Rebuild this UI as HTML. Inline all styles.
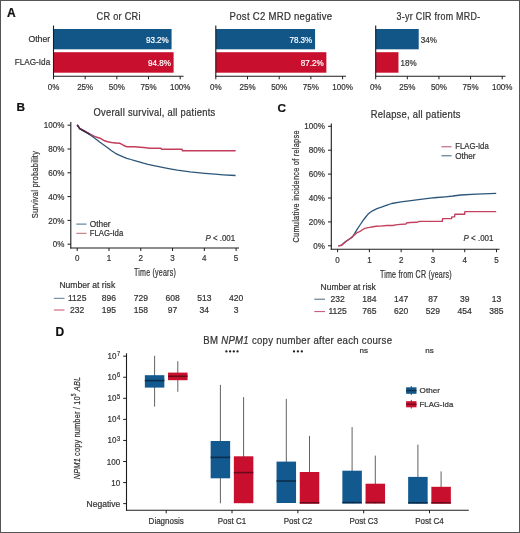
<!DOCTYPE html>
<html><head><meta charset="utf-8"><title>Figure</title>
<style>
html,body{margin:0;padding:0;background:#fff;}
#fig{position:relative;width:520px;height:533px;box-sizing:border-box;border:1px solid #555555;background:#fff;overflow:hidden;}
#fig svg{position:absolute;left:-1px;top:-1px;will-change:transform;}
text{font-family:"Liberation Sans", sans-serif;stroke-width:0.22px;}
</style></head>
<body><div id="fig"><svg width="520" height="533" viewBox="0 0 520 533" font-family='"Liberation Sans", sans-serif'>
<text x="7.00" y="17.00" font-size="12" text-anchor="start" fill="#111" stroke="#111" font-weight="bold" >A</text>
<text x="118.65" y="19.70" font-size="10.2" text-anchor="middle" fill="#333333" stroke="#333333" stroke-width="0.15" letter-spacing="0.3" font-weight="normal" textLength="44.30" lengthAdjust="spacingAndGlyphs" >CR or CRi</text>
<rect x="53.50" y="29.00" width="118.08" height="20.30" fill="#125587"/>
<rect x="53.50" y="52.20" width="120.11" height="20.50" fill="#c8102e"/>
<text x="168.78" y="42.70" font-size="9.6" text-anchor="end" fill="#ffffff" stroke="#ffffff" stroke-width="0.1" font-weight="normal" textLength="22.87" lengthAdjust="spacingAndGlyphs" >93.2%</text>
<text x="170.81" y="66.00" font-size="9.6" text-anchor="end" fill="#ffffff" stroke="#ffffff" stroke-width="0.1" font-weight="normal" textLength="22.87" lengthAdjust="spacingAndGlyphs" >94.8%</text>
<line x1="53.50" y1="25.50" x2="53.50" y2="76.50" stroke="#1c1c1c" stroke-width="1.1"/>
<line x1="53.00" y1="76.20" x2="183.50" y2="76.20" stroke="#1c1c1c" stroke-width="1.1"/>
<line x1="53.50" y1="76.20" x2="53.50" y2="79.30" stroke="#1c1c1c" stroke-width="1"/>
<text x="53.50" y="89.80" font-size="9.4" text-anchor="middle" fill="#333333" stroke="#333333" font-weight="normal" textLength="11.62" lengthAdjust="spacingAndGlyphs" >0%</text>
<line x1="85.17" y1="76.20" x2="85.17" y2="79.30" stroke="#1c1c1c" stroke-width="1"/>
<text x="85.17" y="89.80" font-size="9.4" text-anchor="middle" fill="#333333" stroke="#333333" font-weight="normal" textLength="16.09" lengthAdjust="spacingAndGlyphs" >25%</text>
<line x1="116.85" y1="76.20" x2="116.85" y2="79.30" stroke="#1c1c1c" stroke-width="1"/>
<text x="116.85" y="89.80" font-size="9.4" text-anchor="middle" fill="#333333" stroke="#333333" font-weight="normal" textLength="16.09" lengthAdjust="spacingAndGlyphs" >50%</text>
<line x1="148.53" y1="76.20" x2="148.53" y2="79.30" stroke="#1c1c1c" stroke-width="1"/>
<text x="148.53" y="89.80" font-size="9.4" text-anchor="middle" fill="#333333" stroke="#333333" font-weight="normal" textLength="16.09" lengthAdjust="spacingAndGlyphs" >75%</text>
<line x1="180.20" y1="76.20" x2="180.20" y2="79.30" stroke="#1c1c1c" stroke-width="1"/>
<text x="180.20" y="89.80" font-size="9.4" text-anchor="middle" fill="#333333" stroke="#333333" font-weight="normal" textLength="20.56" lengthAdjust="spacingAndGlyphs" >100%</text>
<text x="281.00" y="19.70" font-size="10.2" text-anchor="middle" fill="#333333" stroke="#333333" stroke-width="0.15" letter-spacing="0.3" font-weight="normal" textLength="102.80" lengthAdjust="spacingAndGlyphs" >Post C2 MRD negative</text>
<rect x="215.80" y="29.00" width="99.28" height="20.30" fill="#125587"/>
<rect x="215.80" y="52.20" width="110.57" height="20.50" fill="#c8102e"/>
<text x="312.28" y="42.70" font-size="9.6" text-anchor="end" fill="#ffffff" stroke="#ffffff" stroke-width="0.1" font-weight="normal" textLength="22.87" lengthAdjust="spacingAndGlyphs" >78.3%</text>
<text x="323.57" y="66.00" font-size="9.6" text-anchor="end" fill="#ffffff" stroke="#ffffff" stroke-width="0.1" font-weight="normal" textLength="22.87" lengthAdjust="spacingAndGlyphs" >87.2%</text>
<line x1="215.80" y1="25.50" x2="215.80" y2="76.50" stroke="#1c1c1c" stroke-width="1.1"/>
<line x1="215.30" y1="76.20" x2="345.90" y2="76.20" stroke="#1c1c1c" stroke-width="1.1"/>
<line x1="215.80" y1="76.20" x2="215.80" y2="79.30" stroke="#1c1c1c" stroke-width="1"/>
<text x="215.80" y="89.80" font-size="9.4" text-anchor="middle" fill="#333333" stroke="#333333" font-weight="normal" textLength="11.62" lengthAdjust="spacingAndGlyphs" >0%</text>
<line x1="247.50" y1="76.20" x2="247.50" y2="79.30" stroke="#1c1c1c" stroke-width="1"/>
<text x="247.50" y="89.80" font-size="9.4" text-anchor="middle" fill="#333333" stroke="#333333" font-weight="normal" textLength="16.09" lengthAdjust="spacingAndGlyphs" >25%</text>
<line x1="279.20" y1="76.20" x2="279.20" y2="79.30" stroke="#1c1c1c" stroke-width="1"/>
<text x="279.20" y="89.80" font-size="9.4" text-anchor="middle" fill="#333333" stroke="#333333" font-weight="normal" textLength="16.09" lengthAdjust="spacingAndGlyphs" >50%</text>
<line x1="310.90" y1="76.20" x2="310.90" y2="79.30" stroke="#1c1c1c" stroke-width="1"/>
<text x="310.90" y="89.80" font-size="9.4" text-anchor="middle" fill="#333333" stroke="#333333" font-weight="normal" textLength="16.09" lengthAdjust="spacingAndGlyphs" >75%</text>
<line x1="342.60" y1="76.20" x2="342.60" y2="79.30" stroke="#1c1c1c" stroke-width="1"/>
<text x="342.60" y="89.80" font-size="9.4" text-anchor="middle" fill="#333333" stroke="#333333" font-weight="normal" textLength="20.56" lengthAdjust="spacingAndGlyphs" >100%</text>
<text x="438.50" y="19.70" font-size="10.2" text-anchor="middle" fill="#333333" stroke="#333333" stroke-width="0.15" letter-spacing="0.3" font-weight="normal" textLength="83.80" lengthAdjust="spacingAndGlyphs" >3-yr CIR from MRD-</text>
<rect x="375.70" y="29.00" width="43.01" height="20.30" fill="#125587"/>
<rect x="375.70" y="52.20" width="22.77" height="20.50" fill="#c8102e"/>
<text x="420.71" y="42.70" font-size="9.6" text-anchor="start" fill="#333333" stroke="#333333" font-weight="normal" textLength="16.14" lengthAdjust="spacingAndGlyphs" >34%</text>
<text x="400.47" y="66.00" font-size="9.6" text-anchor="start" fill="#333333" stroke="#333333" font-weight="normal" textLength="16.14" lengthAdjust="spacingAndGlyphs" >18%</text>
<line x1="375.70" y1="25.50" x2="375.70" y2="76.50" stroke="#1c1c1c" stroke-width="1.1"/>
<line x1="375.20" y1="76.20" x2="505.50" y2="76.20" stroke="#1c1c1c" stroke-width="1.1"/>
<line x1="375.70" y1="76.20" x2="375.70" y2="79.30" stroke="#1c1c1c" stroke-width="1"/>
<text x="375.70" y="89.80" font-size="9.4" text-anchor="middle" fill="#333333" stroke="#333333" font-weight="normal" textLength="11.62" lengthAdjust="spacingAndGlyphs" >0%</text>
<line x1="407.32" y1="76.20" x2="407.32" y2="79.30" stroke="#1c1c1c" stroke-width="1"/>
<text x="407.32" y="89.80" font-size="9.4" text-anchor="middle" fill="#333333" stroke="#333333" font-weight="normal" textLength="16.09" lengthAdjust="spacingAndGlyphs" >25%</text>
<line x1="438.95" y1="76.20" x2="438.95" y2="79.30" stroke="#1c1c1c" stroke-width="1"/>
<text x="438.95" y="89.80" font-size="9.4" text-anchor="middle" fill="#333333" stroke="#333333" font-weight="normal" textLength="16.09" lengthAdjust="spacingAndGlyphs" >50%</text>
<line x1="470.57" y1="76.20" x2="470.57" y2="79.30" stroke="#1c1c1c" stroke-width="1"/>
<text x="470.57" y="89.80" font-size="9.4" text-anchor="middle" fill="#333333" stroke="#333333" font-weight="normal" textLength="16.09" lengthAdjust="spacingAndGlyphs" >75%</text>
<line x1="502.20" y1="76.20" x2="502.20" y2="79.30" stroke="#1c1c1c" stroke-width="1"/>
<text x="502.20" y="89.80" font-size="9.4" text-anchor="middle" fill="#333333" stroke="#333333" font-weight="normal" textLength="20.56" lengthAdjust="spacingAndGlyphs" >100%</text>
<text x="50.20" y="41.80" font-size="9.3" text-anchor="end" fill="#333333" stroke="#333333" font-weight="normal" textLength="21.80" lengthAdjust="spacingAndGlyphs" >Other</text>
<text x="50.20" y="64.70" font-size="9.3" text-anchor="end" fill="#333333" stroke="#333333" font-weight="normal" textLength="35.50" lengthAdjust="spacingAndGlyphs" >FLAG-Ida</text>
<text x="16.60" y="111.20" font-size="11.8" text-anchor="start" fill="#111" stroke="#111" font-weight="bold" >B</text>
<text x="154.50" y="116.00" font-size="10.2" text-anchor="middle" fill="#333333" stroke="#333333" stroke-width="0.15" letter-spacing="0.3" font-weight="normal" textLength="122.00" lengthAdjust="spacingAndGlyphs" >Overall survival, all patients</text>
<line x1="70.80" y1="122.00" x2="70.80" y2="248.50" stroke="#1c1c1c" stroke-width="1.1"/>
<line x1="70.30" y1="248.00" x2="239.00" y2="248.00" stroke="#1c1c1c" stroke-width="1.1"/>
<line x1="67.50" y1="244.20" x2="70.80" y2="244.20" stroke="#1c1c1c" stroke-width="1"/>
<text x="64.30" y="247.30" font-size="9.4" text-anchor="end" fill="#333333" stroke="#333333" font-weight="normal" textLength="11.62" lengthAdjust="spacingAndGlyphs" >0%</text>
<line x1="67.50" y1="220.40" x2="70.80" y2="220.40" stroke="#1c1c1c" stroke-width="1"/>
<text x="64.30" y="223.50" font-size="9.4" text-anchor="end" fill="#333333" stroke="#333333" font-weight="normal" textLength="16.09" lengthAdjust="spacingAndGlyphs" >20%</text>
<line x1="67.50" y1="196.60" x2="70.80" y2="196.60" stroke="#1c1c1c" stroke-width="1"/>
<text x="64.30" y="199.70" font-size="9.4" text-anchor="end" fill="#333333" stroke="#333333" font-weight="normal" textLength="16.09" lengthAdjust="spacingAndGlyphs" >40%</text>
<line x1="67.50" y1="172.80" x2="70.80" y2="172.80" stroke="#1c1c1c" stroke-width="1"/>
<text x="64.30" y="175.90" font-size="9.4" text-anchor="end" fill="#333333" stroke="#333333" font-weight="normal" textLength="16.09" lengthAdjust="spacingAndGlyphs" >60%</text>
<line x1="67.50" y1="149.00" x2="70.80" y2="149.00" stroke="#1c1c1c" stroke-width="1"/>
<text x="64.30" y="152.10" font-size="9.4" text-anchor="end" fill="#333333" stroke="#333333" font-weight="normal" textLength="16.09" lengthAdjust="spacingAndGlyphs" >80%</text>
<line x1="67.50" y1="125.20" x2="70.80" y2="125.20" stroke="#1c1c1c" stroke-width="1"/>
<text x="64.30" y="128.30" font-size="9.4" text-anchor="end" fill="#333333" stroke="#333333" font-weight="normal" textLength="20.56" lengthAdjust="spacingAndGlyphs" >100%</text>
<line x1="77.20" y1="248.00" x2="77.20" y2="251.00" stroke="#1c1c1c" stroke-width="1"/>
<text x="77.20" y="261.40" font-size="9.4" text-anchor="middle" fill="#333333" stroke="#333333" font-weight="normal" textLength="4.47" lengthAdjust="spacingAndGlyphs" >0</text>
<line x1="108.98" y1="248.00" x2="108.98" y2="251.00" stroke="#1c1c1c" stroke-width="1"/>
<text x="108.98" y="261.40" font-size="9.4" text-anchor="middle" fill="#333333" stroke="#333333" font-weight="normal" textLength="4.47" lengthAdjust="spacingAndGlyphs" >1</text>
<line x1="140.76" y1="248.00" x2="140.76" y2="251.00" stroke="#1c1c1c" stroke-width="1"/>
<text x="140.76" y="261.40" font-size="9.4" text-anchor="middle" fill="#333333" stroke="#333333" font-weight="normal" textLength="4.47" lengthAdjust="spacingAndGlyphs" >2</text>
<line x1="172.54" y1="248.00" x2="172.54" y2="251.00" stroke="#1c1c1c" stroke-width="1"/>
<text x="172.54" y="261.40" font-size="9.4" text-anchor="middle" fill="#333333" stroke="#333333" font-weight="normal" textLength="4.47" lengthAdjust="spacingAndGlyphs" >3</text>
<line x1="204.32" y1="248.00" x2="204.32" y2="251.00" stroke="#1c1c1c" stroke-width="1"/>
<text x="204.32" y="261.40" font-size="9.4" text-anchor="middle" fill="#333333" stroke="#333333" font-weight="normal" textLength="4.47" lengthAdjust="spacingAndGlyphs" >4</text>
<line x1="236.10" y1="248.00" x2="236.10" y2="251.00" stroke="#1c1c1c" stroke-width="1"/>
<text x="236.10" y="261.40" font-size="9.4" text-anchor="middle" fill="#333333" stroke="#333333" font-weight="normal" textLength="4.47" lengthAdjust="spacingAndGlyphs" >5</text>
<text x="155.00" y="275.50" font-size="10.2" text-anchor="middle" fill="#333333" stroke="#333333" stroke-width="0.08" letter-spacing="0.3" font-weight="normal" textLength="42.00" lengthAdjust="spacingAndGlyphs" >Time (years)</text>
<text transform="translate(37.9,184.6) rotate(-90)" font-size="9.6" text-anchor="middle" fill="#333333" stroke="#333333" stroke-width="0.08" letter-spacing="0.3" textLength="67.5" lengthAdjust="spacingAndGlyphs">Survival probability</text>
<line x1="76.30" y1="224.10" x2="86.50" y2="224.10" stroke="#3f6a85" stroke-width="1.0"/>
<line x1="76.30" y1="233.30" x2="86.50" y2="233.30" stroke="#b86a72" stroke-width="1.0"/>
<text x="89.80" y="226.90" font-size="8.5" text-anchor="start" fill="#333333" stroke="#333333" font-weight="normal" textLength="20.80" lengthAdjust="spacingAndGlyphs" >Other</text>
<text x="89.80" y="236.40" font-size="8.5" text-anchor="start" fill="#333333" stroke="#333333" font-weight="normal" textLength="33.40" lengthAdjust="spacingAndGlyphs" >FLAG-Ida</text>
<text x="205.4" y="240.7" font-size="9" fill="#333333" stroke="#333333" textLength="29.8" lengthAdjust="spacingAndGlyphs"><tspan font-style="italic">P</tspan> &lt; .001</text>
<path d="M77.2,124.9 L79.7,128.5 L83.5,130.5 L87.4,132.6 L90.5,134.4 L93.5,136.0 L96.2,137.1 L100.0,138.2 L103.8,140.4 L107.7,141.8 L111.5,142.5 L115.4,142.9 L120.0,143.3 L122.3,144.6 L125.4,146.2 L126.9,146.7 L134.6,146.8 L140.0,147.3 L144.0,147.6 L149.6,148.2 L161.0,148.3 L161.5,149.2 L182.0,149.2 L182.5,150.7 L235.6,150.7" fill="none" stroke="#c43d5c" stroke-width="1.55" stroke-linejoin="round"/>
<path d="M77.2,124.9 L79.7,128.7 L83.5,130.9 L87.4,133.2 L91.3,135.8 L95.1,138.5 L100.0,142.3 L103.8,145.0 L107.7,147.7 L111.5,150.8 L115.4,153.3 L119.2,155.2 L123.1,156.8 L126.9,158.3 L130.8,159.5 L134.6,160.6 L140.0,162.1 L143.5,163.2 L147.9,164.3 L155.0,165.9 L163.7,167.7 L170.0,168.9 L177.4,170.2 L190.0,171.9 L204.8,173.3 L215.0,174.2 L223.1,174.8 L235.6,175.5" fill="none" stroke="#2c5679" stroke-width="1.3" stroke-linejoin="round"/>
<path d="M77.2,124.9 L79.7,128.6 L83.5,130.7 L87.4,132.9 L90.0,134.4" fill="none" stroke="#4a2a44" stroke-width="1.6" stroke-linejoin="round"/>
<text x="87.30" y="288.10" font-size="9.5" text-anchor="middle" fill="#333333" stroke="#333333" font-weight="normal" textLength="55.80" lengthAdjust="spacingAndGlyphs" >Number at risk</text>
<line x1="53.80" y1="298.30" x2="64.50" y2="298.30" stroke="#5b7c98" stroke-width="1.0"/>
<line x1="53.80" y1="310.00" x2="64.50" y2="310.00" stroke="#c8506a" stroke-width="1.0"/>
<text x="77.20" y="300.90" font-size="9.5" text-anchor="middle" fill="#333333" stroke="#333333" font-weight="normal" textLength="18.39" lengthAdjust="spacingAndGlyphs" >1125</text>
<text x="77.20" y="312.50" font-size="9.5" text-anchor="middle" fill="#333333" stroke="#333333" font-weight="normal" textLength="14.27" lengthAdjust="spacingAndGlyphs" >232</text>
<text x="108.98" y="300.90" font-size="9.5" text-anchor="middle" fill="#333333" stroke="#333333" font-weight="normal" textLength="14.27" lengthAdjust="spacingAndGlyphs" >896</text>
<text x="108.98" y="312.50" font-size="9.5" text-anchor="middle" fill="#333333" stroke="#333333" font-weight="normal" textLength="14.27" lengthAdjust="spacingAndGlyphs" >195</text>
<text x="140.76" y="300.90" font-size="9.5" text-anchor="middle" fill="#333333" stroke="#333333" font-weight="normal" textLength="14.27" lengthAdjust="spacingAndGlyphs" >729</text>
<text x="140.76" y="312.50" font-size="9.5" text-anchor="middle" fill="#333333" stroke="#333333" font-weight="normal" textLength="14.27" lengthAdjust="spacingAndGlyphs" >158</text>
<text x="172.54" y="300.90" font-size="9.5" text-anchor="middle" fill="#333333" stroke="#333333" font-weight="normal" textLength="14.27" lengthAdjust="spacingAndGlyphs" >608</text>
<text x="172.54" y="312.50" font-size="9.5" text-anchor="middle" fill="#333333" stroke="#333333" font-weight="normal" textLength="9.51" lengthAdjust="spacingAndGlyphs" >97</text>
<text x="204.32" y="300.90" font-size="9.5" text-anchor="middle" fill="#333333" stroke="#333333" font-weight="normal" textLength="14.27" lengthAdjust="spacingAndGlyphs" >513</text>
<text x="204.32" y="312.50" font-size="9.5" text-anchor="middle" fill="#333333" stroke="#333333" font-weight="normal" textLength="9.51" lengthAdjust="spacingAndGlyphs" >34</text>
<text x="236.10" y="300.90" font-size="9.5" text-anchor="middle" fill="#333333" stroke="#333333" font-weight="normal" textLength="14.27" lengthAdjust="spacingAndGlyphs" >420</text>
<text x="236.10" y="312.50" font-size="9.5" text-anchor="middle" fill="#333333" stroke="#333333" font-weight="normal" textLength="4.76" lengthAdjust="spacingAndGlyphs" >3</text>
<text x="277.40" y="111.70" font-size="11.8" text-anchor="start" fill="#111" stroke="#111" font-weight="bold" >C</text>
<text x="415.80" y="117.90" font-size="10.2" text-anchor="middle" fill="#333333" stroke="#333333" stroke-width="0.15" letter-spacing="0.3" font-weight="normal" textLength="90.00" lengthAdjust="spacingAndGlyphs" >Relapse, all patients</text>
<line x1="331.30" y1="123.60" x2="331.30" y2="249.70" stroke="#1c1c1c" stroke-width="1.1"/>
<line x1="330.80" y1="249.20" x2="499.50" y2="249.20" stroke="#1c1c1c" stroke-width="1.1"/>
<line x1="328.00" y1="245.80" x2="331.30" y2="245.80" stroke="#1c1c1c" stroke-width="1"/>
<text x="324.90" y="248.90" font-size="9.4" text-anchor="end" fill="#333333" stroke="#333333" font-weight="normal" textLength="11.62" lengthAdjust="spacingAndGlyphs" >0%</text>
<line x1="328.00" y1="221.90" x2="331.30" y2="221.90" stroke="#1c1c1c" stroke-width="1"/>
<text x="324.90" y="225.00" font-size="9.4" text-anchor="end" fill="#333333" stroke="#333333" font-weight="normal" textLength="16.09" lengthAdjust="spacingAndGlyphs" >20%</text>
<line x1="328.00" y1="198.00" x2="331.30" y2="198.00" stroke="#1c1c1c" stroke-width="1"/>
<text x="324.90" y="201.10" font-size="9.4" text-anchor="end" fill="#333333" stroke="#333333" font-weight="normal" textLength="16.09" lengthAdjust="spacingAndGlyphs" >40%</text>
<line x1="328.00" y1="174.10" x2="331.30" y2="174.10" stroke="#1c1c1c" stroke-width="1"/>
<text x="324.90" y="177.20" font-size="9.4" text-anchor="end" fill="#333333" stroke="#333333" font-weight="normal" textLength="16.09" lengthAdjust="spacingAndGlyphs" >60%</text>
<line x1="328.00" y1="150.20" x2="331.30" y2="150.20" stroke="#1c1c1c" stroke-width="1"/>
<text x="324.90" y="153.30" font-size="9.4" text-anchor="end" fill="#333333" stroke="#333333" font-weight="normal" textLength="16.09" lengthAdjust="spacingAndGlyphs" >80%</text>
<line x1="328.00" y1="126.30" x2="331.30" y2="126.30" stroke="#1c1c1c" stroke-width="1"/>
<text x="324.90" y="129.40" font-size="9.4" text-anchor="end" fill="#333333" stroke="#333333" font-weight="normal" textLength="20.56" lengthAdjust="spacingAndGlyphs" >100%</text>
<line x1="337.60" y1="249.20" x2="337.60" y2="252.20" stroke="#1c1c1c" stroke-width="1"/>
<text x="337.60" y="263.00" font-size="9.4" text-anchor="middle" fill="#333333" stroke="#333333" font-weight="normal" textLength="4.47" lengthAdjust="spacingAndGlyphs" >0</text>
<line x1="369.38" y1="249.20" x2="369.38" y2="252.20" stroke="#1c1c1c" stroke-width="1"/>
<text x="369.38" y="263.00" font-size="9.4" text-anchor="middle" fill="#333333" stroke="#333333" font-weight="normal" textLength="4.47" lengthAdjust="spacingAndGlyphs" >1</text>
<line x1="401.16" y1="249.20" x2="401.16" y2="252.20" stroke="#1c1c1c" stroke-width="1"/>
<text x="401.16" y="263.00" font-size="9.4" text-anchor="middle" fill="#333333" stroke="#333333" font-weight="normal" textLength="4.47" lengthAdjust="spacingAndGlyphs" >2</text>
<line x1="432.94" y1="249.20" x2="432.94" y2="252.20" stroke="#1c1c1c" stroke-width="1"/>
<text x="432.94" y="263.00" font-size="9.4" text-anchor="middle" fill="#333333" stroke="#333333" font-weight="normal" textLength="4.47" lengthAdjust="spacingAndGlyphs" >3</text>
<line x1="464.72" y1="249.20" x2="464.72" y2="252.20" stroke="#1c1c1c" stroke-width="1"/>
<text x="464.72" y="263.00" font-size="9.4" text-anchor="middle" fill="#333333" stroke="#333333" font-weight="normal" textLength="4.47" lengthAdjust="spacingAndGlyphs" >4</text>
<line x1="496.50" y1="249.20" x2="496.50" y2="252.20" stroke="#1c1c1c" stroke-width="1"/>
<text x="496.50" y="263.00" font-size="9.4" text-anchor="middle" fill="#333333" stroke="#333333" font-weight="normal" textLength="4.47" lengthAdjust="spacingAndGlyphs" >5</text>
<text x="415.90" y="277.80" font-size="10.2" text-anchor="middle" fill="#333333" stroke="#333333" stroke-width="0.08" letter-spacing="0.3" font-weight="normal" textLength="72.00" lengthAdjust="spacingAndGlyphs" >Time from CR (years)</text>
<text transform="translate(298.9,186.4) rotate(-90)" font-size="9.6" text-anchor="middle" fill="#333333" stroke="#333333" stroke-width="0.08" letter-spacing="0.3" textLength="112.3" lengthAdjust="spacingAndGlyphs">Cumulative incidence of relapse</text>
<line x1="441.40" y1="146.80" x2="451.50" y2="146.80" stroke="#bb4a66" stroke-width="1.0"/>
<line x1="441.40" y1="155.80" x2="451.50" y2="155.80" stroke="#3a6678" stroke-width="1.0"/>
<text x="455.30" y="149.00" font-size="8.5" text-anchor="start" fill="#333333" stroke="#333333" font-weight="normal" textLength="33.40" lengthAdjust="spacingAndGlyphs" >FLAG-Ida</text>
<text x="455.30" y="158.60" font-size="8.5" text-anchor="start" fill="#333333" stroke="#333333" font-weight="normal" textLength="20.20" lengthAdjust="spacingAndGlyphs" >Other</text>
<text x="463.6" y="240.9" font-size="9" fill="#333333" stroke="#333333" textLength="29.8" lengthAdjust="spacingAndGlyphs"><tspan font-style="italic">P</tspan> &lt; .001</text>
<path d="M338.3,246.0 L341.7,245.0 L345.5,241.5 L349.0,239.3 L352.3,237.1 L354.7,233.4 L357.1,229.4 L360.0,225.0 L362.8,220.8 L365.3,217.5 L367.7,214.6 L370.0,212.5 L372.5,210.8 L377.0,208.6 L382.1,206.9 L386.9,205.1 L391.7,203.5 L401.0,201.9 L410.9,200.6 L420.5,199.3 L430.2,198.1 L437.0,197.5 L445.4,196.8 L453.0,196.0 L460.8,195.0 L476.2,194.1 L496.2,193.3" fill="none" stroke="#2c5679" stroke-width="1.3" stroke-linejoin="round"/>
<path d="M338.3,246.0 L341.7,245.2 L345.5,242.0 L348.5,239.8 L351.3,237.6 L353.2,236.0 L355.0,234.5 L357.0,232.7 L359.0,231.8 L360.9,230.8 L362.8,229.5 L364.8,228.4 L367.0,227.9 L369.6,227.4 L373.0,226.8 L376.3,226.2 L380.0,226.1 L386.9,225.5 L392.7,225.5 L397.3,224.6 L406.0,224.0 L406.5,223.0 L410.0,222.5 L416.9,222.3 L419.2,221.4 L442.3,221.4 L442.6,218.6 L451.5,218.6 L451.8,216.9 L454.6,216.9 L454.9,214.3 L464.6,214.3 L464.9,211.6 L496.2,211.6" fill="none" stroke="#c4405f" stroke-width="1.4" stroke-linejoin="round"/>
<text x="348.20" y="289.80" font-size="9.5" text-anchor="middle" fill="#333333" stroke="#333333" font-weight="normal" textLength="55.30" lengthAdjust="spacingAndGlyphs" >Number at risk</text>
<line x1="314.30" y1="299.20" x2="325.00" y2="299.20" stroke="#4e6478" stroke-width="1.0"/>
<line x1="314.30" y1="311.60" x2="325.00" y2="311.60" stroke="#c8506a" stroke-width="1.0"/>
<text x="337.60" y="302.10" font-size="9.5" text-anchor="middle" fill="#333333" stroke="#333333" font-weight="normal" textLength="14.27" lengthAdjust="spacingAndGlyphs" >232</text>
<text x="337.60" y="314.30" font-size="9.5" text-anchor="middle" fill="#333333" stroke="#333333" font-weight="normal" textLength="18.39" lengthAdjust="spacingAndGlyphs" >1125</text>
<text x="369.38" y="302.10" font-size="9.5" text-anchor="middle" fill="#333333" stroke="#333333" font-weight="normal" textLength="14.27" lengthAdjust="spacingAndGlyphs" >184</text>
<text x="369.38" y="314.30" font-size="9.5" text-anchor="middle" fill="#333333" stroke="#333333" font-weight="normal" textLength="14.27" lengthAdjust="spacingAndGlyphs" >765</text>
<text x="401.16" y="302.10" font-size="9.5" text-anchor="middle" fill="#333333" stroke="#333333" font-weight="normal" textLength="14.27" lengthAdjust="spacingAndGlyphs" >147</text>
<text x="401.16" y="314.30" font-size="9.5" text-anchor="middle" fill="#333333" stroke="#333333" font-weight="normal" textLength="14.27" lengthAdjust="spacingAndGlyphs" >620</text>
<text x="432.94" y="302.10" font-size="9.5" text-anchor="middle" fill="#333333" stroke="#333333" font-weight="normal" textLength="9.51" lengthAdjust="spacingAndGlyphs" >87</text>
<text x="432.94" y="314.30" font-size="9.5" text-anchor="middle" fill="#333333" stroke="#333333" font-weight="normal" textLength="14.27" lengthAdjust="spacingAndGlyphs" >529</text>
<text x="464.72" y="302.10" font-size="9.5" text-anchor="middle" fill="#333333" stroke="#333333" font-weight="normal" textLength="9.51" lengthAdjust="spacingAndGlyphs" >39</text>
<text x="464.72" y="314.30" font-size="9.5" text-anchor="middle" fill="#333333" stroke="#333333" font-weight="normal" textLength="14.27" lengthAdjust="spacingAndGlyphs" >454</text>
<text x="496.50" y="302.10" font-size="9.5" text-anchor="middle" fill="#333333" stroke="#333333" font-weight="normal" textLength="9.51" lengthAdjust="spacingAndGlyphs" >13</text>
<text x="496.50" y="314.30" font-size="9.5" text-anchor="middle" fill="#333333" stroke="#333333" font-weight="normal" textLength="14.27" lengthAdjust="spacingAndGlyphs" >385</text>
<text x="55.60" y="335.70" font-size="12" text-anchor="start" fill="#111" stroke="#111" font-weight="bold" >D</text>
<text x="203.3" y="344.1" font-size="10.2" fill="#333333" stroke="#333333" stroke-width="0.15" letter-spacing="0.3" textLength="189" lengthAdjust="spacingAndGlyphs">BM <tspan font-style="italic">NPM1</tspan> copy number after each course</text>
<line x1="126.50" y1="353.30" x2="126.50" y2="510.80" stroke="#1c1c1c" stroke-width="1.1"/>
<line x1="126.00" y1="510.30" x2="468.80" y2="510.30" stroke="#1c1c1c" stroke-width="1.1"/>
<line x1="123.20" y1="356.20" x2="126.50" y2="356.20" stroke="#1c1c1c" stroke-width="1"/>
<text x="116.50" y="359.20" font-size="9.4" text-anchor="end" fill="#333333" stroke="#333333" font-weight="normal" textLength="8.94" lengthAdjust="spacingAndGlyphs" >10</text>
<text x="116.90" y="356.40" font-size="6.4" text-anchor="start" fill="#333333" stroke="#333333" font-weight="normal" textLength="3.20" lengthAdjust="spacingAndGlyphs" >7</text>
<line x1="123.20" y1="377.26" x2="126.50" y2="377.26" stroke="#1c1c1c" stroke-width="1"/>
<text x="116.50" y="380.26" font-size="9.4" text-anchor="end" fill="#333333" stroke="#333333" font-weight="normal" textLength="8.94" lengthAdjust="spacingAndGlyphs" >10</text>
<text x="116.90" y="377.46" font-size="6.4" text-anchor="start" fill="#333333" stroke="#333333" font-weight="normal" textLength="3.20" lengthAdjust="spacingAndGlyphs" >6</text>
<line x1="123.20" y1="398.32" x2="126.50" y2="398.32" stroke="#1c1c1c" stroke-width="1"/>
<text x="116.50" y="401.32" font-size="9.4" text-anchor="end" fill="#333333" stroke="#333333" font-weight="normal" textLength="8.94" lengthAdjust="spacingAndGlyphs" >10</text>
<text x="116.90" y="398.52" font-size="6.4" text-anchor="start" fill="#333333" stroke="#333333" font-weight="normal" textLength="3.20" lengthAdjust="spacingAndGlyphs" >5</text>
<line x1="123.20" y1="419.38" x2="126.50" y2="419.38" stroke="#1c1c1c" stroke-width="1"/>
<text x="116.50" y="422.38" font-size="9.4" text-anchor="end" fill="#333333" stroke="#333333" font-weight="normal" textLength="8.94" lengthAdjust="spacingAndGlyphs" >10</text>
<text x="116.90" y="419.58" font-size="6.4" text-anchor="start" fill="#333333" stroke="#333333" font-weight="normal" textLength="3.20" lengthAdjust="spacingAndGlyphs" >4</text>
<line x1="123.20" y1="440.44" x2="126.50" y2="440.44" stroke="#1c1c1c" stroke-width="1"/>
<text x="116.50" y="443.44" font-size="9.4" text-anchor="end" fill="#333333" stroke="#333333" font-weight="normal" textLength="8.94" lengthAdjust="spacingAndGlyphs" >10</text>
<text x="116.90" y="440.64" font-size="6.4" text-anchor="start" fill="#333333" stroke="#333333" font-weight="normal" textLength="3.20" lengthAdjust="spacingAndGlyphs" >3</text>
<line x1="123.20" y1="461.50" x2="126.50" y2="461.50" stroke="#1c1c1c" stroke-width="1"/>
<text x="120.20" y="464.50" font-size="9.4" text-anchor="end" fill="#333333" stroke="#333333" font-weight="normal" textLength="13.41" lengthAdjust="spacingAndGlyphs" >100</text>
<line x1="123.20" y1="482.56" x2="126.50" y2="482.56" stroke="#1c1c1c" stroke-width="1"/>
<text x="120.20" y="485.56" font-size="9.4" text-anchor="end" fill="#333333" stroke="#333333" font-weight="normal" textLength="8.94" lengthAdjust="spacingAndGlyphs" >10</text>
<line x1="123.20" y1="503.62" x2="126.50" y2="503.62" stroke="#1c1c1c" stroke-width="1"/>
<text x="120.20" y="506.62" font-size="9.4" text-anchor="end" fill="#333333" stroke="#333333" font-weight="normal" textLength="33.60" lengthAdjust="spacingAndGlyphs" >Negative</text>
<text transform="translate(79.6,428) rotate(-90)" font-size="9.6" text-anchor="middle" fill="#333333" stroke="#333333" stroke-width="0.08" letter-spacing="0.2" textLength="102.5" lengthAdjust="spacingAndGlyphs"><tspan font-style="italic">NPM1</tspan> copy number / 10<tspan font-size="6.5" dy="-3.2">5</tspan><tspan dy="3.2"> </tspan><tspan font-style="italic">ABL</tspan></text>
<line x1="154.60" y1="355.80" x2="154.60" y2="406.60" stroke="#626262" stroke-width="1"/>
<rect x="144.85" y="375.20" width="19.50" height="12.40" fill="#11598f"/>
<line x1="144.85" y1="380.60" x2="164.35" y2="380.60" stroke="#0c2c4a" stroke-width="1.6"/>
<line x1="177.80" y1="361.20" x2="177.80" y2="391.80" stroke="#626262" stroke-width="1"/>
<rect x="168.05" y="372.60" width="19.50" height="7.60" fill="#c8102e"/>
<line x1="168.05" y1="376.30" x2="187.55" y2="376.30" stroke="#6a0a1a" stroke-width="1.6"/>
<line x1="166.20" y1="510.30" x2="166.20" y2="513.30" stroke="#1c1c1c" stroke-width="1"/>
<text x="166.20" y="524.00" font-size="9.0" text-anchor="middle" fill="#333333" stroke="#333333" font-weight="normal" textLength="35.17" lengthAdjust="spacingAndGlyphs" >Diagnosis</text>
<line x1="220.40" y1="384.90" x2="220.40" y2="503.30" stroke="#626262" stroke-width="1"/>
<rect x="210.65" y="441.00" width="19.50" height="37.30" fill="#11598f"/>
<line x1="210.65" y1="457.40" x2="230.15" y2="457.40" stroke="#0c2c4a" stroke-width="1.6"/>
<line x1="243.60" y1="397.10" x2="243.60" y2="503.20" stroke="#626262" stroke-width="1"/>
<rect x="233.85" y="456.30" width="19.50" height="46.90" fill="#c8102e"/>
<line x1="233.85" y1="472.60" x2="253.35" y2="472.60" stroke="#6a0a1a" stroke-width="1.6"/>
<line x1="232.00" y1="510.30" x2="232.00" y2="513.30" stroke="#1c1c1c" stroke-width="1"/>
<text x="232.00" y="524.00" font-size="9.0" text-anchor="middle" fill="#333333" stroke="#333333" font-weight="normal" textLength="28.49" lengthAdjust="spacingAndGlyphs" >Post C1</text>
<line x1="286.30" y1="398.90" x2="286.30" y2="503.00" stroke="#626262" stroke-width="1"/>
<rect x="276.55" y="461.60" width="19.50" height="41.40" fill="#11598f"/>
<line x1="276.55" y1="481.00" x2="296.05" y2="481.00" stroke="#0c2c4a" stroke-width="1.6"/>
<line x1="309.50" y1="435.90" x2="309.50" y2="503.60" stroke="#626262" stroke-width="1"/>
<rect x="299.75" y="472.00" width="19.50" height="31.60" fill="#c8102e"/>
<line x1="299.75" y1="502.80" x2="319.25" y2="502.80" stroke="#6a0a1a" stroke-width="1.6"/>
<line x1="297.90" y1="510.30" x2="297.90" y2="513.30" stroke="#1c1c1c" stroke-width="1"/>
<text x="297.90" y="524.00" font-size="9.0" text-anchor="middle" fill="#333333" stroke="#333333" font-weight="normal" textLength="28.49" lengthAdjust="spacingAndGlyphs" >Post C2</text>
<line x1="352.10" y1="427.10" x2="352.10" y2="503.40" stroke="#626262" stroke-width="1"/>
<rect x="342.35" y="470.70" width="19.50" height="32.70" fill="#11598f"/>
<line x1="342.35" y1="502.60" x2="361.85" y2="502.60" stroke="#0c2c4a" stroke-width="1.6"/>
<line x1="375.30" y1="455.60" x2="375.30" y2="503.40" stroke="#626262" stroke-width="1"/>
<rect x="365.55" y="483.70" width="19.50" height="19.70" fill="#c8102e"/>
<line x1="365.55" y1="502.60" x2="385.05" y2="502.60" stroke="#6a0a1a" stroke-width="1.6"/>
<line x1="363.70" y1="510.30" x2="363.70" y2="513.30" stroke="#1c1c1c" stroke-width="1"/>
<text x="363.70" y="524.00" font-size="9.0" text-anchor="middle" fill="#333333" stroke="#333333" font-weight="normal" textLength="28.49" lengthAdjust="spacingAndGlyphs" >Post C3</text>
<line x1="417.90" y1="444.60" x2="417.90" y2="503.60" stroke="#626262" stroke-width="1"/>
<rect x="408.15" y="476.90" width="19.50" height="26.70" fill="#11598f"/>
<line x1="408.15" y1="502.80" x2="427.65" y2="502.80" stroke="#0c2c4a" stroke-width="1.6"/>
<line x1="441.10" y1="471.40" x2="441.10" y2="503.60" stroke="#626262" stroke-width="1"/>
<rect x="431.35" y="486.80" width="19.50" height="16.80" fill="#c8102e"/>
<line x1="431.35" y1="502.80" x2="450.85" y2="502.80" stroke="#6a0a1a" stroke-width="1.6"/>
<line x1="429.50" y1="510.30" x2="429.50" y2="513.30" stroke="#1c1c1c" stroke-width="1"/>
<text x="429.50" y="524.00" font-size="9.0" text-anchor="middle" fill="#333333" stroke="#333333" font-weight="normal" textLength="28.49" lengthAdjust="spacingAndGlyphs" >Post C4</text>
<circle cx="226.4" cy="351.4" r="1.15" fill="#1e1e1e"/>
<circle cx="230.1" cy="351.4" r="1.15" fill="#1e1e1e"/>
<circle cx="233.8" cy="351.4" r="1.15" fill="#1e1e1e"/>
<circle cx="237.5" cy="351.4" r="1.15" fill="#1e1e1e"/>
<circle cx="294.0" cy="351.4" r="1.15" fill="#1e1e1e"/>
<circle cx="297.9" cy="351.4" r="1.15" fill="#1e1e1e"/>
<circle cx="301.8" cy="351.4" r="1.15" fill="#1e1e1e"/>
<text x="363.70" y="352.70" font-size="8.0" text-anchor="middle" fill="#333333" stroke="#333333" stroke-width="0.08" font-weight="normal" textLength="8.45" lengthAdjust="spacingAndGlyphs" >ns</text>
<text x="429.50" y="352.90" font-size="8.0" text-anchor="middle" fill="#333333" stroke="#333333" stroke-width="0.08" font-weight="normal" textLength="8.45" lengthAdjust="spacingAndGlyphs" >ns</text>
<line x1="411.30" y1="386.00" x2="411.30" y2="395.10" stroke="#555" stroke-width="1"/>
<rect x="406.10" y="387.30" width="10.40" height="6.50" fill="#125587"/>
<line x1="406.10" y1="390.55" x2="416.50" y2="390.55" stroke="#0c2c4a" stroke-width="1.2"/>
<text x="419.60" y="393.30" font-size="8.0" text-anchor="start" fill="#333333" stroke="#333333" font-weight="normal" textLength="20.30" lengthAdjust="spacingAndGlyphs" >Other</text>
<line x1="411.30" y1="399.90" x2="411.30" y2="408.60" stroke="#555" stroke-width="1"/>
<rect x="406.10" y="401.20" width="10.40" height="6.10" fill="#c8102e"/>
<line x1="406.10" y1="404.25" x2="416.50" y2="404.25" stroke="#6a0a1a" stroke-width="1.2"/>
<text x="419.60" y="406.90" font-size="8.0" text-anchor="start" fill="#333333" stroke="#333333" font-weight="normal" textLength="33.60" lengthAdjust="spacingAndGlyphs" >FLAG-Ida</text>
</svg></div></body></html>
